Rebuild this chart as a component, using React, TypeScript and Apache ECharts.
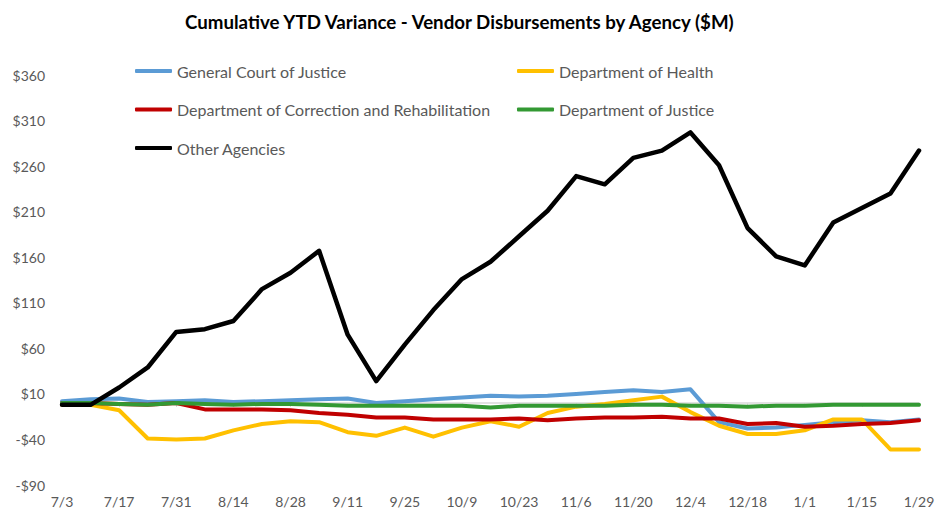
import React, { useEffect, useRef } from "react";
import * as echarts from "echarts";

const dates = [
  "7/3", "7/10", "7/17", "7/24", "7/31", "8/7", "8/14", "8/21", "8/28", "9/4", "9/11",
  "9/18", "9/25", "10/2", "10/9", "10/16", "10/23", "10/30", "11/6", "11/13", "11/20",
  "11/27", "12/4", "12/11", "12/18", "12/25", "1/1", "1/8", "1/15", "1/22", "1/29",
];

const generalCourt = [2, 4, 5, 1, 2, 3, 1, 2, 3, 4, 5, 0, 2, 4, 6, 8, 7, 8, 10, 12, 14, 12, 15, -21, -28, -27, -24, -21, -19, -21, -18];
const health = [-2, -2, -8, -39, -40, -39, -30, -23, -20, -21, -32, -36, -27, -37, -27, -20, -26, -11, -4, -1, 3, 7, -10, -25, -34, -34, -30, -18, -18, -51, -51];
const correction = [0, 0, -1, -2, 0, -7, -7, -7, -8, -11, -13, -16, -16, -18, -18, -18, -17, -19, -17, -16, -16, -15, -17, -17, -23, -22, -26, -25, -23, -22, -19];
const justice = [0, 0, -1, -2, 0, -1, -2, -1, -1, -2, -3, -3, -3, -3, -3, -5, -3, -3, -3, -3, -2, -2, -3, -3, -4, -3, -3, -2, -2, -2, -2];
const otherAgencies = [-2, -2, 17, 39, 78, 81, 90, 125, 143, 167, 75, 24, 64, 102, 136, 155, 183, 211, 249, 240, 269, 277, 297, 261, 192, 161, 151, 198, 214, 230, 277];

const seriesNames = [
  "General Court of Justice",
  "Department of Health",
  "Department of Correction and Rehabilitation",
  "Department of Justice",
  "Other Agencies",
];
const seriesData = [generalCourt, health, correction, justice, otherAgencies];
const seriesColors = ["#5B9BD5", "#FFC000", "#C00000", "#339933", "#000000"];

const yMin = -90;
const yMax = 360;
const yStep = 50;

const FONT = "Lato, 'Noto Sans', sans-serif";

export default function App() {
  const ref = useRef<HTMLDivElement>(null);

  useEffect(() => {
    if (!ref.current) return;
    const chart = echarts.init(ref.current, undefined, { renderer: "svg" });

    const legendBase = {
      orient: "vertical",
      icon: "roundRect",
      itemWidth: 37,
      itemHeight: 4,
      itemGap: 18.5,
      padding: 0,
      textStyle: { color: "#595959", fontSize: 16, fontFamily: FONT, lineHeight: 20 },
      selectedMode: false,
    };

    chart.setOption({
      animation: false,
      backgroundColor: "#ffffff",
      textStyle: { fontFamily: FONT },
      title: {
        text: "Cumulative YTD Variance - Vendor Disbursements by Agency ($M)",
        left: 180,
        top: 7,
        textStyle: { color: "#000000", fontSize: 18.7, fontWeight: "bold", fontFamily: FONT },
      },
      legend: [
        { ...legendBase, left: 135, top: 61, data: [seriesNames[0], seriesNames[2], seriesNames[4]] },
        { ...legendBase, left: 517, top: 61, data: [seriesNames[1], seriesNames[3]] },
      ],
      grid: { left: 62, right: 20, top: 75, bottom: 28, containLabel: false },
      xAxis: [
        {
          type: "category",
          data: dates,
          boundaryGap: false,
          axisLine: { show: true, onZero: true, lineStyle: { color: "#D9D9D9", width: 1.5 } },
          axisTick: { show: true, interval: 1, length: 4, lineStyle: { color: "#D9D9D9" } },
          axisLabel: { show: false },
          splitLine: { show: false },
        },
        {
          type: "category",
          data: dates,
          boundaryGap: false,
          position: "bottom",
          axisLine: { show: false, onZero: false },
          axisTick: { show: false },
          axisLabel: { interval: 1, color: "#595959", fontSize: 14, margin: 9, fontFamily: FONT },
          splitLine: { show: false },
        },
      ],
      yAxis: {
        type: "value",
        min: yMin,
        max: yMax,
        interval: yStep,
        axisLine: { show: false },
        axisTick: { show: false },
        splitLine: { show: false },
        axisLabel: {
          color: "#595959",
          fontSize: 14,
          margin: 17,
          fontFamily: FONT,
          formatter: (v: number) => (v < 0 ? "-$" + Math.abs(v) : "$" + v),
        },
      },
      series: seriesNames.map((name, i) => ({
        name,
        type: "line",
        xAxisIndex: 0,
        data: seriesData[i],
        showSymbol: false,
        symbol: "none",
        color: seriesColors[i],
        lineStyle: { color: seriesColors[i], width: i === 4 ? 4.5 : 4, cap: "round", join: "round" },
        emphasis: { disabled: true },
      })),
    });

    return () => chart.dispose();
  }, []);

  return (
    <div
      ref={ref}
      style={{ position: "fixed", left: 0, top: 0, width: 939, height: 513, background: "#fff" }}
    />
  );
}
